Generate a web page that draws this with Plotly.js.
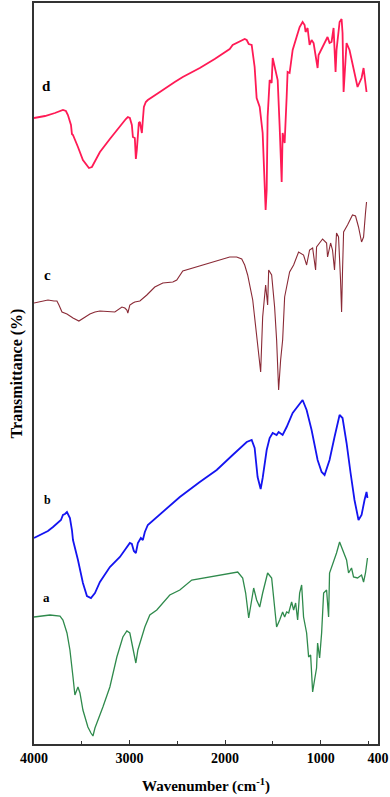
<!DOCTYPE html>
<html>
<head>
<meta charset="utf-8">
<script src="https://cdn.plot.ly/plotly-3.0.1.min.js"></script>
<style>html,body{margin:0;padding:0;background:#fff;}#chart{width:390px;height:797px;}</style>
</head>
<body>
<div id="chart"></div>
<script>
// Wavenumber (cm-1) and transmittance (offset, arbitrary units)
const wnD = [4000,3885,3781,3697,3666,3645,3613,3603,3592,3582,3540,3488,3446,3425,3394,3352,3310,3206,3101,3070,3039,3018,2997,2976,2965,2945,2934,2924,2903,2892,2882,2871,2861,2850,2830,2809,2683,2610,2527,2443,2265,2109,1983,1952,1921,1847,1795,1774,1753,1722,1691,1670,1638,1607,1586,1576,1565,1555,1534,1513,1502,1471,1450,1429,1408,1398,1377,1356,1346,1325,1293,1252,1220,1189,1168,1158,1137,1116,1095,1074,1032,1022,959,928,907,886,865,844,834,802,781,771,760,729,698,667,614,572,551,520];
const tD = [626,628,631,634,633,629,619,610,609,607,597,584,578,576,577,584,592,605,618,621,625,627,626,619,607,606,585,594,621,622,617,611,624,637,642,644,652,657,662,667,676,685,693,695,699,703,705,704,700,699,677,646,637,611,564,534,554,627,664,661,686,674,664,617,562,611,601,647,672,671,694,707,717,722,719,712,716,699,704,701,676,689,702,707,701,702,716,672,694,722,725,711,652,701,694,681,657,666,676,652];

const wnC = [4000,3937,3854,3791,3760,3739,3707,3655,3592,3530,3467,3415,3362,3310,3154,3101,3080,3049,3028,3018,2997,2965,2945,2892,2819,2736,2652,2547,2506,2443,2265,2056,1952,1879,1826,1795,1764,1711,1670,1649,1628,1607,1576,1555,1544,1513,1482,1461,1440,1419,1398,1377,1325,1283,1231,1179,1147,1116,1084,1053,1043,980,938,928,896,876,855,834,813,792,781,771,760,719,667,635,604,572,551,531,520];
const tC = [441,442,444,443,443,439,432,430,426,423,427,430,432,433,432,435,437,436,434,431,439,441,442,443,449,457,461,462,464,473,478,484,487,487,485,479,469,444,411,389,372,427,459,439,474,469,437,404,354,384,404,447,472,479,492,489,479,494,496,474,497,505,501,487,501,494,474,511,507,464,432,474,512,519,529,528,517,502,507,531,542];

const wnB = [4000,3906,3854,3801,3749,3718,3697,3676,3655,3645,3624,3603,3592,3540,3488,3446,3404,3362,3310,3206,3101,2997,2976,2955,2934,2913,2882,2861,2840,2809,2652,2474,2265,2088,1921,1774,1722,1691,1660,1628,1607,1565,1534,1502,1461,1440,1398,1356,1293,1220,1189,1147,1095,1032,990,959,907,855,802,771,729,687,646,604,572,541,520,510];
const tB = [206,211,213,217,222,224,229,230,232,230,226,214,204,184,161,148,146,151,162,177,187,201,200,193,191,201,206,204,212,219,232,247,262,274,289,302,304,296,267,255,266,294,306,311,309,312,309,317,331,341,344,334,314,284,272,269,284,307,329,326,301,271,244,224,229,244,252,246];

const wnA = [4000,3833,3728,3697,3655,3624,3592,3572,3540,3519,3488,3436,3404,3383,3362,3342,3279,3206,3133,3070,3028,2997,2965,2934,2913,2871,2840,2788,2715,2579,2474,2349,2234,1952,1868,1816,1785,1753,1733,1701,1670,1638,1607,1555,1513,1492,1461,1429,1398,1377,1356,1335,1304,1283,1262,1241,1220,1199,1179,1147,1126,1105,1084,1064,1043,1032,1011,990,969,938,917,907,886,865,834,802,771,729,708,677,656,614,572,551,531,510];
const tA = [127,129,128,124,111,94,67,49,57,51,34,17,11,8,16,21,37,57,87,107,113,111,97,81,94,107,117,129,134,149,154,164,166,171,172,166,151,126,136,156,144,137,151,171,166,144,117,124,132,127,132,131,142,134,141,124,151,159,127,111,87,89,52,64,76,101,86,111,151,154,127,171,177,181,191,202,194,184,171,176,167,166,169,162,171,186];

const seriesLabels = ['a','b','c','d'];
const xTickVals = [4000,3000,2000,1000,400];
const xTickText = ['4000','3000','2000','1000','400'];

const font = 'Liberation Serif, Times New Roman, serif';

const traces = [
  {x: wnA, y: tA, mode: 'lines', line: {color: '#2f8a4c', width: 1.3}, name: 'a'},
  {x: wnB, y: tB, mode: 'lines', line: {color: '#1414f0', width: 1.8}, name: 'b'},
  {x: wnC, y: tC, mode: 'lines', line: {color: '#8a2a36', width: 1.1}, name: 'c'},
  {x: wnD, y: tD, mode: 'lines', line: {color: '#ff1a55', width: 1.8}, name: 'd'}
];

const labelPos = [[0.035,0.198],[0.038,0.329],[0.038,0.633],[0.035,0.888]];
const labelSize = [13,12,15,15];
const annotations = seriesLabels.map((s,i)=>({
  text: '<b>'+s+'</b>', xref:'paper', yref:'paper', x: labelPos[i][0], y: labelPos[i][1],
  xanchor:'center', yanchor:'middle', showarrow:false, font:{family:font, size:labelSize[i], color:'#000'}
}));

const layout = {
  width: 390, height: 797,
  margin: {l: 34, r: 12, t: 3, b: 53},
  paper_bgcolor: '#fff', plot_bgcolor: '#fff',
  showlegend: false,
  xaxis: {
    range: [4000, 400], autorange: false,
    tickvals: xTickVals, ticktext: xTickText,
    ticks: 'inside', ticklen: 4, tickwidth: 1.2, tickcolor: '#333',
    minor: {tickvals: [3500,2500,1500,500], ticks: 'inside', ticklen: 3, tickcolor: '#333'},
    showline: true, linecolor: '#333', linewidth: 1.8, mirror: true,
    showgrid: false, zeroline: false,
    tickfont: {family: font, size: 14, color: '#000', weight: 'bold'},
    title: {text: '<b>Wavenumber (cm<sup>-1</sup>)</b>', font: {family: font, size: 15, color: '#000'}, standoff: 16}
  },
  yaxis: {
    range: [0, 741], autorange: false,
    showticklabels: false, ticks: '',
    showline: true, linecolor: '#333', linewidth: 1.8, mirror: true,
    showgrid: false, zeroline: false,
    title: {text: '<b>Transmittance (%)</b>', font: {family: font, size: 16, color: '#000'}, standoff: 6}
  },
  annotations: annotations
};

Plotly.newPlot('chart', traces, layout, {displayModeBar: false, staticPlot: true});
</script>
</body>
</html>
